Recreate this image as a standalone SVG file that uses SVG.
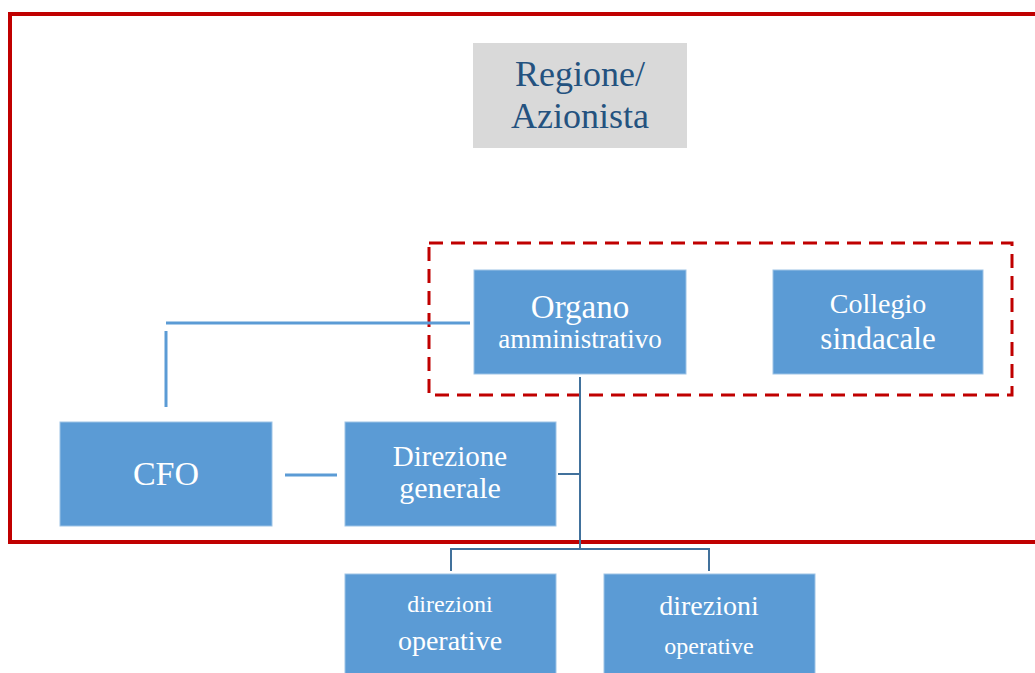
<svg xmlns="http://www.w3.org/2000/svg" width="1035" height="673" viewBox="0 0 1035 673">
<style>
.box{fill:#5B9BD5;stroke:#9DC3E6;stroke-width:1}
.t{font-family:"Liberation Serif","Times New Roman",serif;fill:#FFFFFF;text-anchor:middle}
.lt{stroke:#5B9BD5;stroke-width:3;fill:none}
.dk{stroke:#41719C;stroke-width:2;fill:none}
</style>
<rect width="1035" height="673" fill="#FFFFFF"/>
<rect id="outer" x="10" y="14" width="1040" height="528" fill="none" stroke="#C00000" stroke-width="4"/>
<rect id="dashed" x="429" y="243" width="583" height="152" fill="none" stroke="#C00000" stroke-width="3" stroke-dasharray="14,8"/>
<g id="connectors">
<path class="lt" d="M166,323 H470"/>
<path class="lt" d="M166,331 V407"/>
<path class="lt" d="M285,475 H337"/>
<path class="dk" d="M580,377 V549"/>
<path class="dk" d="M558,474 H580"/>
<path class="dk" d="M451,571 V549 H709 V571"/>
</g>
<g id="regione">
<rect x="473" y="43" width="214" height="105" fill="#D9D9D9"/>
<text class="t" x="580" y="86" font-size="36" style="fill:#24527F">Regione/</text>
<text class="t" x="580" y="128" font-size="36" style="fill:#24527F">Azionista</text>
</g>
<g id="organo">
<rect class="box" x="474" y="270" width="212" height="104"/>
<text class="t" x="580" y="318" font-size="33">Organo</text>
<text class="t" x="580" y="348" font-size="27">amministrativo</text>
</g>
<g id="collegio">
<rect class="box" x="773" y="270" width="210" height="104"/>
<text class="t" x="878" y="313" font-size="28">Collegio</text>
<text class="t" x="878" y="349" font-size="31">sindacale</text>
</g>
<g id="cfo">
<rect class="box" x="60" y="422" width="212" height="104"/>
<text class="t" x="166" y="485" font-size="34">CFO</text>
</g>
<g id="direzione">
<rect class="box" x="345" y="422" width="211" height="104"/>
<text class="t" x="450" y="466" font-size="29">Direzione</text>
<text class="t" x="450" y="498" font-size="30">generale</text>
</g>
<g id="op1">
<rect class="box" x="345" y="574" width="211" height="104"/>
<text class="t" x="450" y="612" font-size="24">direzioni</text>
<text class="t" x="450" y="650" font-size="28">operative</text>
</g>
<g id="op2">
<rect class="box" x="604" y="574" width="211" height="104"/>
<text class="t" x="709" y="615" font-size="28">direzioni</text>
<text class="t" x="709" y="654" font-size="24">operative</text>
</g>
</svg>
